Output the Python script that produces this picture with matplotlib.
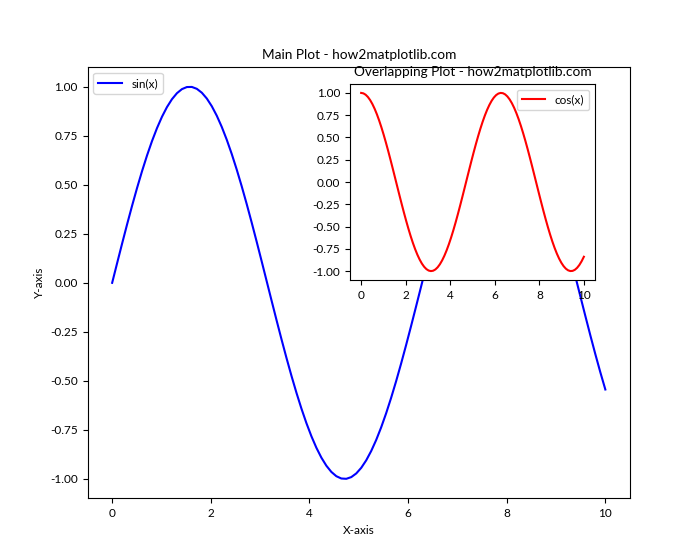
import numpy as np
import matplotlib
matplotlib.use("Agg")
import matplotlib.pyplot as plt
from matplotlib.ticker import MultipleLocator

plt.rcParams['font.family'] = ['Lato', 'DejaVu Sans']
plt.rcParams['font.size'] = 8.5
plt.rcParams['axes.titlesize'] = 9.8
plt.rcParams['axes.unicode_minus'] = False

x = np.linspace(0, 10, 100)
y_sin = np.sin(x)
y_cos = np.cos(x)

fig = plt.figure(figsize=(7, 5.6), dpi=100)
ax1 = fig.add_subplot(111)
ax1.plot(x, y_sin, color='blue', label='sin(x)')
ax1.set_title('Main Plot - how2matplotlib.com')
ax1.set_xlabel('X-axis')
ax1.set_ylabel('Y-axis')
ax1.legend(loc='upper left')

ax2 = fig.add_axes([0.5, 0.5, 0.35, 0.35])
ax2.plot(x, y_cos, color='red', label='cos(x)')
ax2.set_title('Overlapping Plot - how2matplotlib.com')
ax2.yaxis.set_major_locator(MultipleLocator(0.25))
ax2.xaxis.set_major_locator(MultipleLocator(2))
ax2.legend(loc='upper right')

fig.savefig('out.png', dpi=100)
